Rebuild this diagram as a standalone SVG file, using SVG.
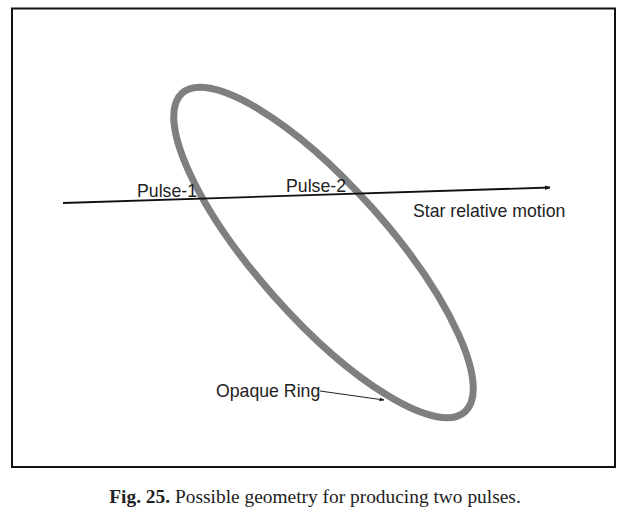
<svg xmlns="http://www.w3.org/2000/svg" width="630" height="527" viewBox="0 0 630 527">
<style>
.lbl{font-family:"Liberation Sans",Arial,sans-serif;font-size:17.7px;fill:#222}
.cap{font-family:"Liberation Serif","Times New Roman",serif;font-size:19.4px;fill:#222}
</style>
<defs>
<marker id="ah" viewBox="0 0 10 10" refX="9" refY="5" markerWidth="6" markerHeight="6" markerUnits="userSpaceOnUse" orient="auto"><path d="M0,1 L10,5 L0,9 z" fill="#111"/></marker>
<marker id="ah2" viewBox="0 0 10 10" refX="9" refY="5" markerWidth="5" markerHeight="5" markerUnits="userSpaceOnUse" orient="auto"><path d="M0,1 L10,5 L0,9 z" fill="#111"/></marker>
</defs>
<rect x="0" y="0" width="630" height="527" fill="#fff"/>
<rect id="frame" x="12" y="8.5" width="603" height="458.5" fill="none" stroke="#111" stroke-width="2"/>
<g id="ring">
<ellipse cx="323.5" cy="252.5" rx="213" ry="66" transform="rotate(48.4 323.5 252.5)" fill="none" stroke="#7f7f7f" stroke-width="7"/>
</g>
<g id="connectors">
<line x1="63" y1="203" x2="550" y2="187.5" stroke="#111" stroke-width="1.8" marker-end="url(#ah)"/>
<line x1="320" y1="391" x2="384" y2="400" stroke="#222" stroke-width="1" marker-end="url(#ah2)"/>
</g>
<g id="labels">
<text class="lbl" x="137" y="197">Pulse-1</text>
<text class="lbl" x="286" y="192">Pulse-2</text>
<text class="lbl" x="413" y="217">Star relative motion</text>
<text class="lbl" x="216" y="397">Opaque Ring</text>
</g>
<text class="cap" x="315" y="503" text-anchor="middle"><tspan font-weight="bold">Fig. 25.</tspan> Possible geometry for producing two pulses.</text>
</svg>
